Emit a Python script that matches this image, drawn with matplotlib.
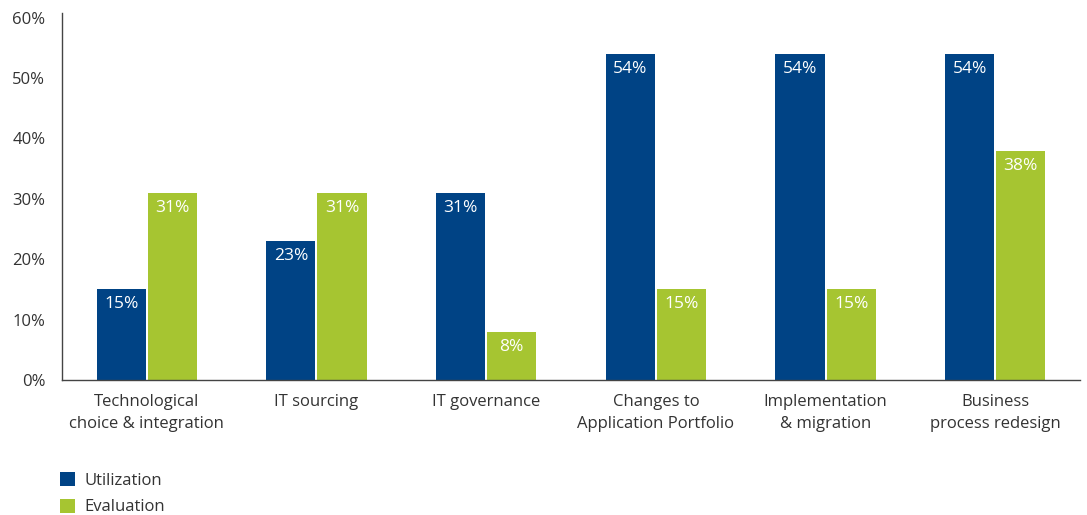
import matplotlib
matplotlib.use("Agg")
import matplotlib.pyplot as plt
import numpy as np
from matplotlib.patches import Patch

plt.rcParams['font.family'] = ['Open Sans', 'DejaVu Sans']

categories = [
    "Technological\nchoice & integration",
    "IT sourcing",
    "IT governance",
    "Changes to\nApplication Portfolio",
    "Implementation\n& migration",
    "Business\nprocess redesign",
]
utilization = [15, 23, 31, 54, 54, 54]
evaluation = [31, 31, 8, 15, 15, 38]
yticks = [0, 10, 20, 30, 40, 50, 60]

BLUE = "#004385"
GREEN = "#a6c531"
TEXT = "#333333"

fig = plt.figure(figsize=(10.87, 5.15), dpi=100)
ax = fig.add_axes([0.057, 0.262, 0.9366, 0.713])

x = np.arange(len(categories))
w = 0.29
gap = 0.006
b1 = ax.bar(x - w / 2 - gap, utilization, width=w, color=BLUE)
b2 = ax.bar(x + w / 2 + gap, evaluation, width=w, color=GREEN)

for bars, vals in ((b1, utilization), (b2, evaluation)):
    for rect, v in zip(bars, vals):
        ax.annotate(f"{v}%", xy=(rect.get_x() + rect.get_width() / 2, v),
                    xytext=(0, -5), textcoords="offset points",
                    ha="center", va="top", color="white", fontsize=12.5)

ax.set_xlim(-0.5, len(categories) - 0.5)
ax.set_ylim(0, 60.8)
ax.set_yticks(yticks)
ax.set_yticklabels([f"{t}%" for t in yticks])
ax.set_xticks(x)
ax.set_xticklabels(categories, linespacing=1.5)
ax.tick_params(axis="both", length=0, labelsize=12, colors=TEXT)
ax.tick_params(axis="y", pad=12)
ax.tick_params(axis="x", pad=10)

for s in ("top", "right"):
    ax.spines[s].set_visible(False)
for s in ("left", "bottom"):
    ax.spines[s].set_color("#444444")
    ax.spines[s].set_linewidth(1.0)

handles = [Patch(facecolor=BLUE, label="Utilization"),
           Patch(facecolor=GREEN, label="Evaluation")]
fig.legend(handles=handles, loc="upper left", bbox_to_anchor=(0.0505, 0.093),
           frameon=False, fontsize=12, handlelength=0.9, handleheight=0.9,
           handletextpad=0.55, labelspacing=0.6, labelcolor=TEXT,
           borderaxespad=0, borderpad=0.3)

fig.savefig("out.png", dpi=100)
